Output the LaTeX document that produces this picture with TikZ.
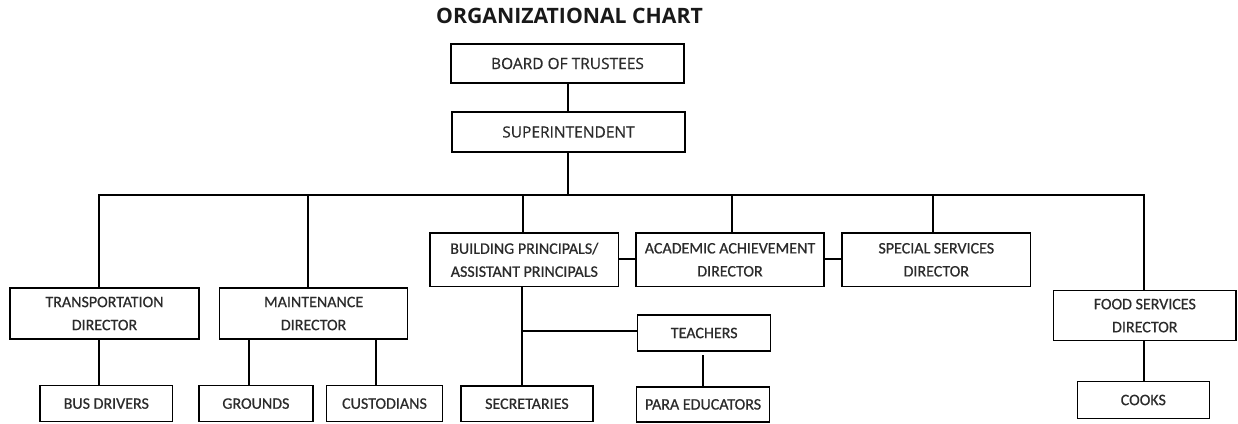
\documentclass[tikz,border=0pt]{standalone}
\usepackage{fontspec}
\setmainfont{Carlito}[FakeBold=0.6]
\newfontfamily\opensans{Open Sans}[FakeBold=0.4]
\newfontfamily\opensansbold{Open Sans Bold}
\definecolor{txt}{HTML}{2B2B2B}
\begin{document}
\begin{tikzpicture}[x=1pt,y=-1pt,
  box/.style={draw=black, line width=1.5pt, rectangle, inner sep=0pt, align=center,
    text=txt, font=\fontsize{16}{23}\selectfont},
  topbox/.style={box, font=\opensans\fontsize{15.5}{20}\selectfont},
  link/.style={draw=black, line width=2pt}]
\useasboundingbox (0,0) rectangle (1238,423);
\fill[white] (0,0) rectangle (1238,423);

\node[anchor=base, font=\opensansbold\fontsize{21.2}{24}\selectfont, text=black!90] (title) at (569.5,23) {ORGANIZATIONAL CHART};

\node[topbox, minimum width=233pt, minimum height=39pt] (board) at (567.5,63.5) {BOARD OF TRUSTEES};
\node[topbox, minimum width=233pt, minimum height=40pt] (super) at (568.5,132) {SUPERINTENDENT};

\node[box, minimum width=189pt, minimum height=51pt] (trans) at (104.5,313.5) {TRANSPORTATION\\DIRECTOR};
\node[box, minimum width=188pt, minimum height=51pt] (maint) at (313.6,313.5) {MAINTENANCE\\DIRECTOR};
\node[box, minimum width=188.5pt, minimum height=53.5pt] (build) at (524.3,259.8) {BUILDING PRINCIPALS/\\ASSISTANT PRINCIPALS};
\node[box, minimum width=188pt, minimum height=53.5pt] (acad) at (730,259.8) {ACADEMIC ACHIEVEMENT\\DIRECTOR};
\node[box, minimum width=188.5pt, minimum height=53.5pt] (spec) at (936.3,259.8) {SPECIAL SERVICES\\DIRECTOR};
\node[box, minimum width=182.5pt, minimum height=50pt] (food) at (1144.8,315.6) {FOOD SERVICES\\DIRECTOR};

\node[box, minimum width=132.7pt, minimum height=35.8pt] (bus) at (106.3,403.6) {BUS DRIVERS};
\node[box, minimum width=113.7pt, minimum height=35.8pt] (grounds) at (255.9,403.6) {GROUNDS};
\node[box, minimum width=115.6pt, minimum height=35.8pt] (cust) at (384.5,403.6) {CUSTODIANS};
\node[box, minimum width=131.7pt, minimum height=35.5pt] (secr) at (526.9,403.8) {SECRETARIES};
\node[box, minimum width=133pt, minimum height=36pt] (teach) at (704.2,333) {TEACHERS};
\node[box, minimum width=132.6pt, minimum height=35.3pt] (para) at (703,404.4) {PARA EDUCATORS};
\node[box, minimum width=132pt, minimum height=36.6pt] (cooks) at (1143.3,400) {COOKS};

% bus line coordinates
\coordinate (bL) at (99,195);
\coordinate (bM) at (307.5,195);
\coordinate (bB) at (523,195);
\coordinate (bS) at (567.5,195);
\coordinate (bA) at (732.2,195);
\coordinate (bSp) at (932.8,195);
\coordinate (bR) at (1143.5,195);

\draw[link] (board.south -| bS) -- (super.north -| bS);
\draw[link] (super.south -| bS) -- (bS);
\draw[link] (trans.north -| bL) -- (bL) -- (bR) -- (food.north -| bR);
\draw[link] (bM) -- (maint.north -| bM);
\draw[link] (bB) -- (build.north -| bB);
\draw[link] (bA) -- (acad.north -| bA);
\draw[link] (bSp) -- (spec.north -| bSp);

\draw[link] (build.east |- 0,259) -- (acad.west |- 0,259);
\draw[link] (acad.east |- 0,259) -- (spec.west |- 0,259);

\coordinate (tl) at (99,0);
\draw[link] (trans.south -| tl) -- (bus.north -| tl);
\coordinate (mg) at (249,0);
\coordinate (mc) at (376,0);
\draw[link] (maint.south -| mg) -- (grounds.north -| mg);
\draw[link] (maint.south -| mc) -- (cust.north -| mc);

\coordinate (bs) at (521.5,0);
\coordinate (br) at (521.5,331);
\draw[link] (build.south -| bs) -- (secr.north -| bs);
\draw[link] (br) -- (teach.west |- br);

\coordinate (tp) at (703,355);
\draw[link] (tp) -- (para.north -| tp);

\coordinate (fc) at (1144,0);
\draw[link] (food.south -| fc) -- (cooks.north -| fc);
\end{tikzpicture}
\end{document}
